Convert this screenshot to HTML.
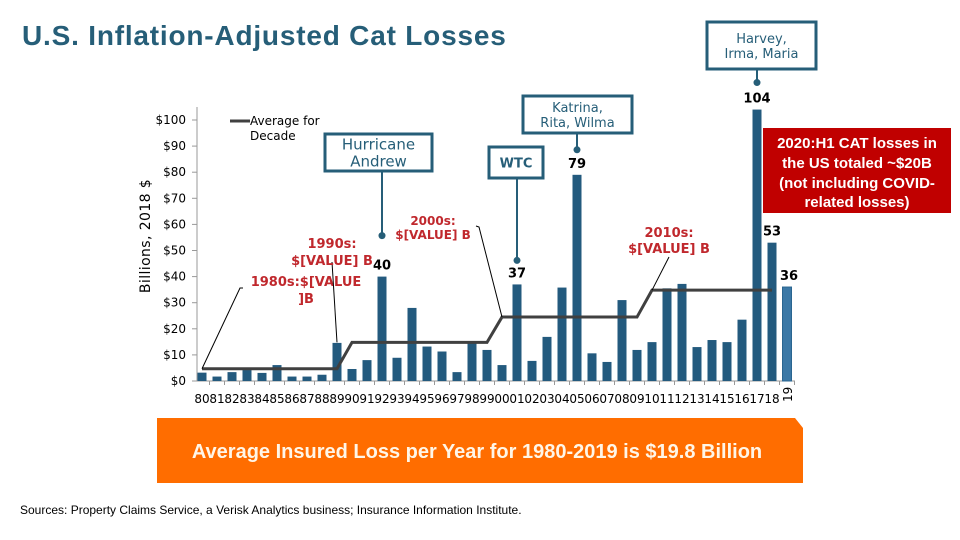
<!DOCTYPE html>
<html><head><meta charset="utf-8"><style>
body{margin:0;background:#fff;width:960px;height:540px;overflow:hidden}
svg{display:block}
.v{font-family:"DejaVu Sans",Verdana,sans-serif}
.a{font-family:"Liberation Sans",Arial,sans-serif}
</style></head><body>
<svg id="c" width="960" height="540" viewBox="0 0 960 540">
<text class="a" x="22" y="45" font-size="28" letter-spacing="0.8" font-weight="bold" fill="#265e78">U.S. Inflation-Adjusted Cat Losses</text>
<g id="axes"></g>
<g id="bars"></g>
<g id="avg"></g>
<g id="ann"></g>
<text class="v" transform="translate(150,236) rotate(-90)" text-anchor="middle" font-size="14" letter-spacing="0.4" fill="#000">Billions, 2018 $</text>
<line x1="230" y1="121" x2="250" y2="121" stroke="#404040" stroke-width="3"/>
<text class="v" font-size="12" fill="#000"><tspan x="250" y="125">Average for</tspan><tspan x="250" y="140">Decade</tspan></text>
<polygon points="157,418 795,418 803,428 803,483 157,483" fill="#ff6d00"/>
<text class="a" x="477" y="458" text-anchor="middle" font-size="20" font-weight="bold" fill="#fff6e8">Average Insured Loss per Year for 1980-2019 is $19.8 Billion</text>
<text class="a" x="20" y="514" font-size="12" fill="#000">Sources: Property Claims Service, a Verisk Analytics business; Insurance Information Institute.</text>
<rect x="763" y="128" width="188" height="85" fill="#c00000"/>
<text class="a" font-size="15" font-weight="bold" fill="#fff" text-anchor="middle"><tspan x="857" y="148">2020:H1 CAT losses in</tspan><tspan x="857" y="168">the US totaled ~$20B</tspan><tspan x="857" y="188">(not including COVID-</tspan><tspan x="857" y="207">related losses)</tspan></text>
</svg>
<script>
const years=["80","81","82","83","84","85","86","87","88","89","90","91","92","93","94","95","96","97","98","99","00","01","02","03","04","05","06","07","08","09","10","11","12","13","14","15","16","17","18","19"];
const losses=[3.2,1.7,3.4,4.2,3.1,6.1,1.7,1.7,2.4,14.6,4.6,8.0,40,8.9,28,13.2,11.3,3.4,14.6,11.9,6.1,37,7.7,16.9,35.8,79,10.6,7.3,31,11.9,14.9,35.5,37.2,13,15.7,14.9,23.5,104,53,36];
const decadeAvg=[4.7,14.8,24.5,34.8];
const yTicks=[0,10,20,30,40,50,60,70,80,90,100];
const valueLabels={"92":"40","01":"37","05":"79","17":"104","18":"53","19":"36"};
const NS="http://www.w3.org/2000/svg";
const y0=381,k=2.61,x0=202,step=15.0;
const Y=v=>y0-v*k, X=i=>x0+i*step;
function mk(t,a,p){const e=document.createElementNS(NS,t);for(const n in a)e.setAttribute(n,a[n]);(p||document.getElementById('c')).appendChild(e);return e;}
const ax=document.getElementById('axes');
let l=mk('line',{x1:197,y1:Y(105),x2:197,y2:y0,stroke:'#999'},ax);


l=mk('line',{x1:197,y1:y0,x2:X(39)+8,y2:y0,stroke:'#999'},ax);


yTicks.forEach(v=>{
 mk('line',{x1:192,y1:Y(v),x2:197,y2:Y(v),stroke:'#999'},ax);
 const t=mk('text',{x:186,y:Y(v)+4,'text-anchor':'end','font-size':12,class:'v'},ax);
 t.textContent='$'+v;
 
 
});
const bg=document.getElementById('bars');
years.forEach((yr,i)=>{
 const last=i===years.length-1;
 const r=mk('rect',{x:X(i)-4.5,y:Y(losses[i]),width:9,height:losses[i]*k,fill:last?'#3b78a6':'#235a7e',stroke:last?'#2a6590':'none'},bg);
 
 
 mk('line',{x1:X(i)+7.5,y1:y0,x2:X(i)+7.5,y2:y0+4,stroke:'#999'},ax);
 let t;
 if(last){t=mk('text',{transform:`translate(${X(i)+5},${y0+21}) rotate(-90)`,'font-size':12,class:'v'},ax);}
 else t=mk('text',{x:X(i),y:y0+22,'text-anchor':'middle','font-size':12,class:'v'},ax);
 t.textContent=yr;
 
 
 if(valueLabels[yr]){
  const vt=mk('text',{x:X(i)+(yr==="19"?2:0),y:Y(losses[i])-7,'text-anchor':'middle','font-size':13,'font-weight':'bold',class:'v'},bg);
  vt.textContent=valueLabels[yr];
  
  
 }
});
let pts=[];
decadeAvg.forEach((a,d)=>{const s=d*10,e=Math.min(d*10+9,38);pts.push(X(s)+','+Y(a));pts.push(X(e)+','+Y(a));});
const pl=mk('polyline',{points:pts.join(' '),fill:'none',stroke:'#404040','stroke-width':3},document.getElementById('avg'));


const an=document.getElementById('ann');
function box(x,y,w,h,lines,yr,name,fs,off,bold){
 const i=years.indexOf(yr),cx=X(i);
 const g=mk('g',{},an);
 
 
 mk('rect',{x:x,y:y,width:w,height:h,fill:'#fff',stroke:'#265e78','stroke-width':3},g);
 const dy=Y(losses[i])-off;
 mk('line',{x1:cx,y1:y+h,x2:cx,y2:dy,stroke:'#265e78','stroke-width':2},g);
 mk('circle',{cx:cx,cy:dy,r:3.5,fill:'#265e78'},g);
 lines.forEach((s,j)=>{const t=mk('text',{x:x+w/2,y:y+h/2+(j-(lines.length-1)/2)*(fs+2)+fs*0.38,'text-anchor':'middle','font-size':fs,'font-weight':bold?'bold':'normal',fill:'#265e78',class:'v'},g);t.textContent=s;});
}
box(325,134,107,37,["Hurricane","Andrew"],"92","hurricane-andrew-callout",15,41,false);
box(489,147,54,31,["WTC"],"01","wtc-callout",13,24,true);
box(523,96,109,37,["Katrina,","Rita, Wilma"],"05","katrina-callout",13,25,false);
box(707,22,109,47,["Harvey,","Irma, Maria"],"17","harvey-callout",13,27,false);
function lab(lines,cx,ys,name,fs,path){
 const g=mk('g',{},an);
 
 
 mk('polyline',{points:path,fill:'none',stroke:'#000','stroke-width':1},g);
 lines.forEach((s,j)=>{const t=mk('text',{x:cx,y:ys[j],'text-anchor':'middle','font-size':fs,'font-weight':'bold',fill:'#c0282d',class:'v'},g);t.textContent=s;});
}
lab(["1980s:$[VALUE","]B"],306,[286,303],"label-1980s",13,`${X(0)},${Y(decadeAvg[0])} 240,288 243,288`);
lab(["1990s:","$[VALUE] B"],332,[248,265],"label-1990s",13,`${X(9)},${Y(decadeAvg[1])} 332,262`);
lab(["2000s:","$[VALUE] B"],433,[225,239],"label-2000s",12,`${X(20)},${Y(decadeAvg[2])} 479,227 476,226`);
lab(["2010s:","$[VALUE] B"],669,[237,253],"label-2010s",13,`${X(30)},${Y(decadeAvg[3])} 669,257`);
</script>
</body></html>
